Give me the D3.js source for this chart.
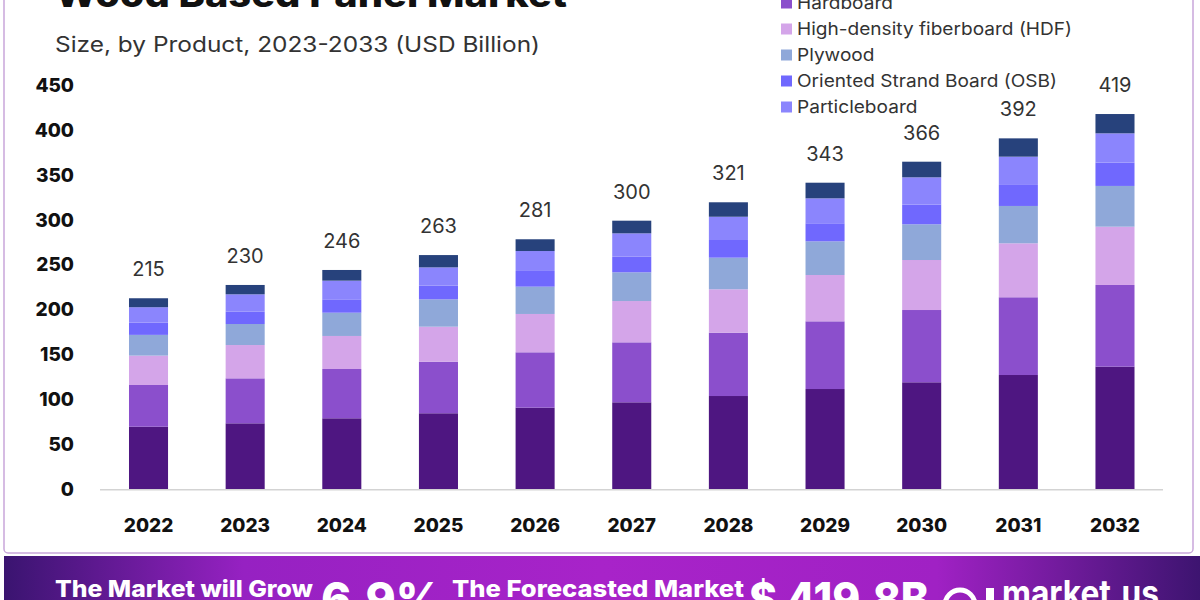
<!DOCTYPE html>
<html>
<head>
<meta charset="utf-8">
<script src="https://cdn.jsdelivr.net/npm/d3@7"></script>
<style>
  body { margin: 0; background: #fff; }
  svg { display: block; font-family: Inter, "Open Sans", sans-serif; }
</style>
</head>
<body>
<svg id="chart" width="1200" height="600"></svg>
<script>
// years on the x axis
const years = ["2022", "2023", "2024", "2025", "2026", "2027", "2028", "2029", "2030", "2031", "2032"];

// stacked series, bottom to top (USD billion)
const mdf           = [69.7, 73.5, 79.1, 84.7, 90.9, 96.9, 103.9, 111.7, 119.2, 127.3, 136.6];
const hardboard     = [46.5, 50.1, 54.9, 57.4, 61.7, 66.8, 70.5, 75.4, 80.5, 86.6, 91.0];
const hdf           = [32.7, 37.1, 36.8, 39.0, 42.7, 46.0, 48.4, 51.6, 55.7, 60.1, 64.9];
const plywood       = [23.1, 23.4, 25.9, 30.5, 30.4, 32.0, 35.2, 37.5, 39.8, 41.6, 45.4];
const osb           = [13.7, 13.7, 14.9, 15.2, 17.5, 17.4, 19.7, 20.1, 21.9, 23.4, 26.0];
const particleboard = [17.1, 19.4, 20.8, 20.4, 22.2, 26.0, 25.9, 27.8, 30.4, 31.5, 32.6];
const others        = [10.0, 10.4, 11.9, 13.7, 13.1, 14.1, 16.1, 17.4, 17.4, 20.4, 21.5];

// labels printed over each bar
const totals = [215, 230, 246, 263, 281, 300, 321, 343, 366, 392, 419];

const seriesNames = ["Medium-density fiberboard (MDF)", "Hardboard", "High-density fiberboard (HDF)",
                     "Plywood", "Oriented Strand Board (OSB)", "Particleboard", "Others"];
const seriesValues = [mdf, hardboard, hdf, plywood, osb, particleboard, others];
const colors = ["#4e1681", "#8b4fcc", "#d4a5e9", "#8fa8d9", "#7068fe", "#8b85fd", "#27427c"];

// only these legend entries fall inside the picture
const legendKeys = ["Hardboard", "High-density fiberboard (HDF)", "Plywood",
                    "Oriented Strand Board (OSB)", "Particleboard"];

const yTicks = [0, 50, 100, 150, 200, 250, 300, 350, 400, 450];

const svg = d3.select("#chart");

// the original font is wider than Inter, stretch text a bit
function widen(sel, k) {
    sel.each(function () {
        const w = this.getComputedTextLength();
        d3.select(this).attr("textLength", w * k).attr("lengthAdjust", "spacingAndGlyphs");
    });
}

// gradient for the bottom banner
const defs = svg.append("defs");
const grad = defs.append("linearGradient").attr("id", "banner").attr("x1", "0%").attr("x2", "100%");
[["0%", "#3a1470"], ["20%", "#9621c2"], ["50%", "#a823c9"], ["78%", "#a021c4"], ["100%", "#3d1470"]]
    .forEach(s => grad.append("stop").attr("offset", s[0]).attr("stop-color", s[1]));

// card frame
svg.append("rect")
    .attr("x", 4).attr("y", -20)
    .attr("width", 1189).attr("height", 573)
    .attr("rx", 4)
    .attr("fill", "#fff")
    .attr("stroke", "#c9a7da")
    .attr("stroke-width", 1.5);

// title (cut off at the top) and subtitle
svg.append("text")
    .attr("x", 55).attr("y", 7)
    .attr("font-size", 36).attr("font-weight", 800)
    .attr("fill", "#111")
    .attr("textLength", 512).attr("lengthAdjust", "spacingAndGlyphs")
    .text("Wood Based Panel Market");

svg.append("text")
    .attr("x", 55).attr("y", 52)
    .attr("font-size", 21)
    .attr("fill", "#333")
    .attr("textLength", 485).attr("lengthAdjust", "spacingAndGlyphs")
    .text("Size, by Product, 2023-2033 (USD Billion)");

// scales
const x = d3.scaleBand()
    .domain(years)
    .range([100, 1163.5])
    .paddingInner(0.596)
    .paddingOuter(0.3);

const y = d3.scaleLinear()
    .domain([0, 450])
    .range([489.3, 85.3]);

// stack the data
const rows = years.map((yr, i) => {
    const r = { year: yr };
    seriesNames.forEach((n, k) => r[n] = seriesValues[k][i]);
    return r;
});
const stacked = d3.stack().keys(seriesNames)(rows);
const color = d3.scaleOrdinal().domain(seriesNames).range(colors);

// y axis labels
const yAxis = svg.append("g")
    .attr("transform", "translate(74,0)")
    .call(d3.axisLeft(y).tickValues(yTicks).tickSize(0).tickPadding(0));
yAxis.select(".domain").remove();
yAxis.selectAll("text")
    .attr("font-family", "Inter, sans-serif")
    .attr("font-size", 19)
    .attr("font-weight", 800)
    .attr("fill", "#111");

// bars
svg.append("g")
    .selectAll("g")
    .data(stacked)
    .enter()
    .append("g")
    .attr("fill", d => color(d.key))
    .selectAll("rect")
    .data(d => d)
    .enter()
    .append("rect")
    .attr("x", d => x(d.data.year))
    .attr("y", d => y(d[1]))
    .attr("width", x.bandwidth())
    .attr("height", d => y(d[0]) - y(d[1]));

// baseline
svg.append("line")
    .attr("x1", 100).attr("x2", 1163)
    .attr("y1", y(0) + 0.5).attr("y2", y(0) + 0.5)
    .attr("stroke", "#d3d3d3")
    .attr("stroke-width", 1.5);

// x axis labels
const xAxis = svg.append("g")
    .attr("transform", `translate(0,${y(0)})`)
    .call(d3.axisBottom(x).tickSize(0).tickPadding(29));
xAxis.select(".domain").remove();
xAxis.selectAll("text")
    .attr("font-family", "Inter, sans-serif")
    .attr("font-size", 19)
    .attr("font-weight", 800)
    .attr("fill", "#111");

// total labels
const topOf = i => d3.sum(seriesValues, s => s[i]);
svg.append("g")
    .selectAll("text")
    .data(totals)
    .enter()
    .append("text")
    .attr("x", (d, i) => x(years[i]) + x.bandwidth() / 2)
    .attr("y", (d, i) => y(topOf(i)) - 22)
    .attr("text-anchor", "middle")
    .attr("font-size", 20)
    .attr("fill", "#333")
    .text(d => d);

// legend
const legend = svg.append("g").attr("transform", "translate(781,3)");
legend.selectAll("rect")
    .data(legendKeys)
    .enter()
    .append("rect")
    .attr("x", 0)
    .attr("y", (d, i) => i * 26 - 5.5)
    .attr("width", 11).attr("height", 11)
    .attr("fill", d => color(d));
legend.selectAll("text")
    .data(legendKeys)
    .enter()
    .append("text")
    .attr("x", 16)
    .attr("y", (d, i) => i * 26 + 6)
    .attr("font-size", 17.5)
    .attr("fill", "#333")
    .text(d => d)
    .call(widen, 1.09);

// bottom banner
svg.append("rect")
    .attr("x", 4).attr("y", 556)
    .attr("width", 1196).attr("height", 50)
    .attr("fill", "url(#banner)");

const banner = svg.append("g").attr("fill", "#fff").attr("font-weight", 800);
banner.append("text").attr("x", 55).attr("y", 597).attr("font-size", 23)
    .attr("textLength", 258).attr("lengthAdjust", "spacingAndGlyphs")
    .text("The Market will Grow");
banner.append("text").attr("x", 321).attr("y", 616).attr("font-size", 46)
    .attr("textLength", 122).attr("lengthAdjust", "spacingAndGlyphs")
    .text("6.9%");
banner.append("text").attr("x", 452).attr("y", 597).attr("font-size", 23)
    .attr("textLength", 292).attr("lengthAdjust", "spacingAndGlyphs")
    .text("The Forecasted Market");
banner.append("text").attr("x", 749).attr("y", 616).attr("font-size", 46)
    .attr("textLength", 180).attr("lengthAdjust", "spacingAndGlyphs")
    .text("$ 419.8B");

// market.us mark
banner.append("circle")
    .attr("cx", 960).attr("cy", 605).attr("r", 15)
    .attr("fill", "none").attr("stroke", "#fff").attr("stroke-width", 5);
banner.append("rect")
    .attr("x", 986).attr("y", 588).attr("width", 8).attr("height", 20);
banner.append("text").attr("x", 1002).attr("y", 606).attr("font-size", 36)
    .attr("font-weight", 700)
    .attr("textLength", 157).attr("lengthAdjust", "spacingAndGlyphs")
    .text("market.us");
</script>
</body>
</html>
